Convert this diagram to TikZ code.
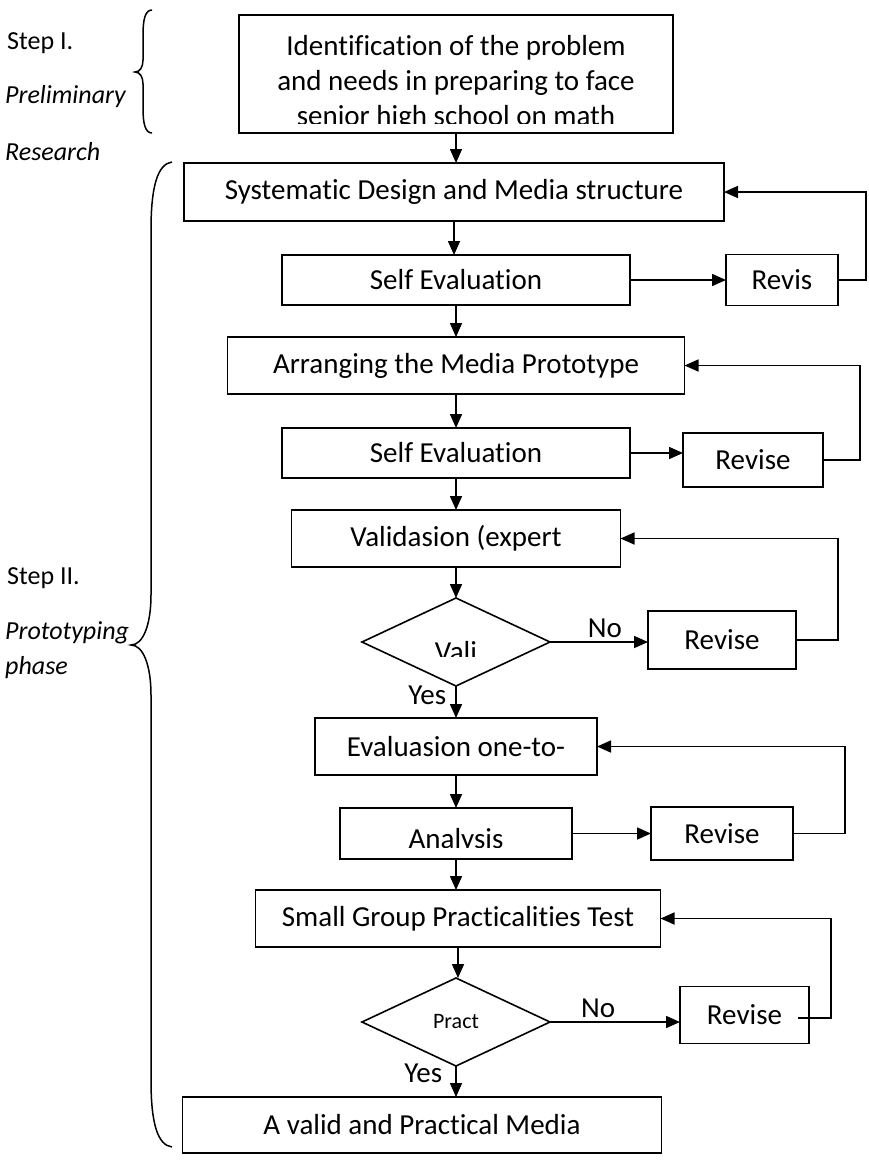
\documentclass[tikz,border=0pt]{standalone}
\usepackage{fontspec}
\setmainfont{Carlito}[Ligatures={NoCommon}]
\usetikzlibrary{positioning,shapes.geometric,arrows.meta}

\newcommand{\boxfont}{\fontsize{29}{35}\selectfont}
\newcommand{\sidefont}{\fontsize{26}{31}\selectfont}
\newcommand{\smallfont}{\fontsize{22}{26}\selectfont}

\tikzset{
  stage/.style={draw,line width=1.6pt,rectangle,inner sep=0pt,outer sep=0pt,font=\boxfont,align=center},
  decision/.style={draw,line width=1.6pt,diamond,inner sep=0pt,outer sep=0pt,minimum width=188pt,minimum height=88pt},
  flow/.style={line width=1.6pt,-{Triangle[length=14pt,width=12pt]}},
  bracket/.style={line width=1.5pt},
  steplabel/.style={anchor=west,inner sep=0pt,font=\sidefont},
}

\begin{document}
\begin{tikzpicture}[x=1pt,y=-1pt,node distance=32pt]
  \useasboundingbox (0,0) rectangle (869,1160);
  % Step I: the problem box, its last line is cut off by the frame
  \node[stage,minimum width=434pt,minimum height=118pt] (ident) at (456,74) {};
  \begin{scope}
    \clip (ident.north west) rectangle ([yshift=10pt]ident.south east);
    \node[font=\boxfont,align=center] (identtxt) at (456,83)
      {Identification of the problem\\and needs in preparing to face\\senior high school on math};
  \end{scope}

  % Step II: main column, each stage below the one before
  \node[stage,minimum width=540pt,minimum height=58pt,below=30pt of ident,xshift=-2pt] (sysd) {Systematic Design and Media structure};
  \node[stage,minimum width=348pt,minimum height=50pt,below=34pt of sysd,xshift=2pt] (self1) {Self Evaluation};
  \node[stage,minimum width=112pt,minimum height=51pt,right=96pt of self1] (rev1) {Revis};
  \node[stage,minimum width=457pt,minimum height=57pt,below=32pt of self1] (arrange) {Arranging the Media Prototype};
  \node[stage,minimum width=348pt,minimum height=50pt,below=34pt of arrange] (self2) {Self Evaluation};
  \node[stage,minimum width=140pt,minimum height=54pt,right=53pt of self2,yshift=-7pt] (rev2) {Revise};
  \node[stage,minimum width=329pt,minimum height=57pt,below=32pt of self2] (valid) {Validasion (expert};
  \node[decision,below=31pt of valid] (vali) {};
  \node[stage,minimum width=148pt,minimum height=58pt,right=98pt of vali,yshift=2pt] (rev3) {Revise};
  \node[stage,minimum width=282pt,minimum height=57pt,below=32pt of vali] (eval) {Evaluasion one-to-};
  \node[stage,minimum width=232pt,minimum height=51pt,below=33pt of eval] (analysis) {};
  \node[stage,minimum width=142pt,minimum height=53pt,right=79pt of analysis] (rev4) {Revise};
  \node[stage,minimum width=405pt,minimum height=57pt,below=31pt of analysis,xshift=2pt] (small) {Small Group Practicalities Test};
  \node[decision,below=31pt of small,xshift=-2pt,font=\smallfont] (pract) {Pract};
  \node[stage,minimum width=129pt,minimum height=57pt,right=130pt of pract,yshift=7pt] (rev5) {Revise};
  \node[stage,minimum width=479pt,minimum height=56pt,below=31pt of pract,xshift=-34pt] (final) {A valid and Practical Media};

  % texts cut off at the bottom
  \begin{scope}
    \clip ([xshift=-60pt]vali.north) rectangle ([xshift=60pt,yshift=-14pt]vali.center);
    \node[font=\boxfont,anchor=base] (valitxt) at ([yshift=-19pt]vali.center) {Vali};
  \end{scope}
  \begin{scope}
    \clip (analysis.north west) rectangle ([yshift=12pt]analysis.south east);
    \node[font=\boxfont,anchor=base] (analysistxt) at ([yshift=11pt]analysis.south) {Analysis};
  \end{scope}

  % down the column
  \draw[flow] (ident.south) -- (ident.south |- sysd.north);
  \draw[flow] (sysd.south) -- (sysd.south |- self1.north);
  \draw[flow] (self1.south) -- (self1.south |- arrange.north);
  \draw[flow] (arrange.south) -- (arrange.south |- self2.north);
  \draw[flow] (self2.south) -- (self2.south |- valid.north);
  \draw[flow] (valid.south) -- (valid.south |- vali.north);
  \draw[flow] (vali.south) -- node[left,pos=0.3,inner sep=9pt,font=\boxfont] {Yes} (vali.south |- eval.north);
  \draw[flow] (eval.south) -- (eval.south |- analysis.north);
  \draw[flow] (analysis.south) -- (analysis.south |- small.north);
  \draw[flow] (small.south) -- (small.south |- pract.north);
  \draw[flow] (pract.south) -- node[left,pos=0.25,inner sep=13pt,font=\boxfont] {Yes} (pract.south |- final.north);

  % out to the revise boxes
  \draw[flow] (self1.east) -- (self1.east -| rev1.west);
  \draw[flow] (self2.east) -- (self2.east -| rev2.west);
  \draw[flow] (vali.east) -- node[above,pos=0.56,inner sep=4pt,font=\boxfont] {No} (vali.east -| rev3.west);
  \draw[flow] (analysis.east) -- (analysis.east -| rev4.west);
  \draw[flow] (pract.east) -- node[above,pos=0.37,inner sep=4pt,font=\boxfont] {No} (pract.east -| rev5.west);

  % and back up again
  \draw[flow] (rev1.east) -- ++(28,0) |- (sysd.east);
  \draw[flow] (rev2.east) -- ++(37,0) |- (arrange.east);
  \draw[flow] (rev3.east) -- ++(42,0) |- (valid.east);
  \draw[flow] (rev4.east) -- ++(52,0) |- (eval.east);
  \draw[flow] ([xshift=-11pt,yshift=-3pt]rev5.east) -- ++(33,0) |- (small.east);

  % step names and their braces
  \node[steplabel] (stepone) at (7,43) {Step I.};
  \node[steplabel,font=\sidefont\itshape] (prelim) at (5,97) {Preliminary};
  \node[steplabel,font=\sidefont\itshape] (research) at (5,152) {Research};
  \node[steplabel] (steptwo) at (7,578) {Step II.};
  \node[steplabel,font=\sidefont\itshape] (proto) at (5,633) {Prototyping};
  \node[steplabel,font=\sidefont\itshape] (phase) at (5,668) {phase};
  \draw[bracket] (152,10) .. controls (145,10) and (143,20) .. (143,35) -- (143,60)
    .. controls (143,67) and (140,72) .. (135,72) .. controls (140,72) and (143,77) .. (143,84)
    -- (143,108) .. controls (143,123) and (145,133) .. (152,133);
  \draw[bracket] (172,162) .. controls (158,164) and (151,185) .. (151,230) -- (151,595)
    .. controls (151,625) and (143,645) .. (131,645) .. controls (143,645) and (151,665) .. (151,695)
    -- (151,1080) .. controls (151,1125) and (158,1145) .. (172,1147);
\end{tikzpicture}
\end{document}
